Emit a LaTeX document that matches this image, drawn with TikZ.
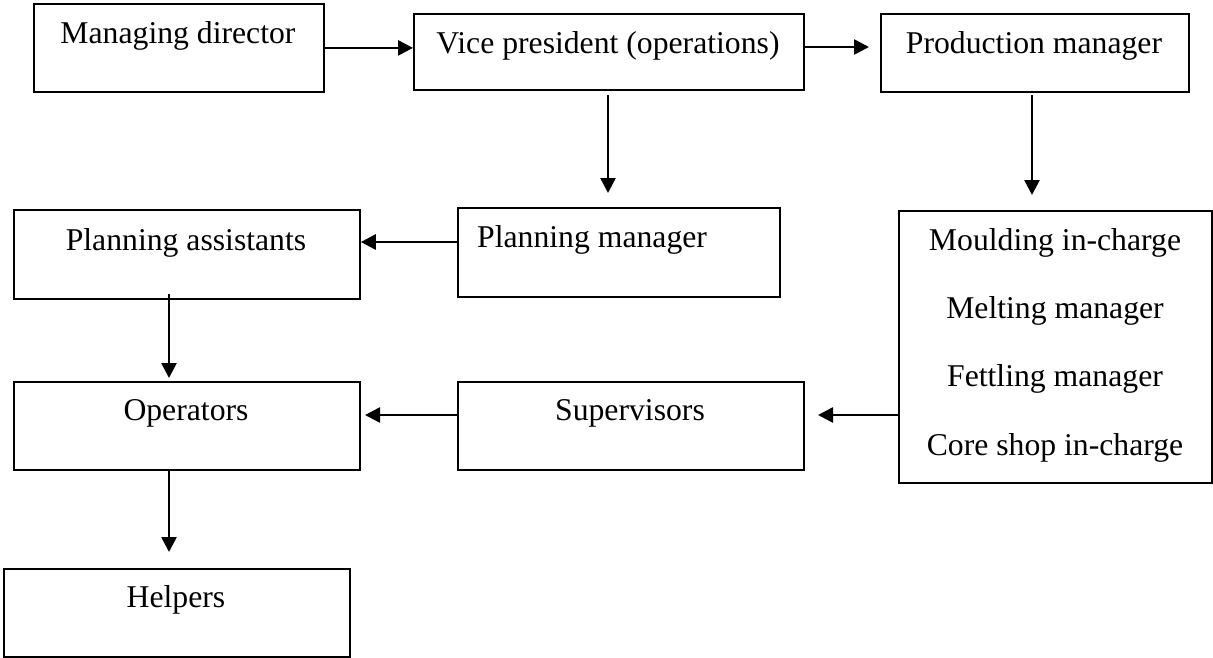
\documentclass[tikz,border=0pt]{standalone}
\usepackage{fontspec}
\setmainfont{Liberation Serif}
\usetikzlibrary{arrows.meta,calc}
\begin{document}
\begin{tikzpicture}[x=1pt,y=-1pt,
  box/.style={draw,line width=1.8pt,inner sep=0pt,anchor=north west},
  lbl/.style={anchor=base,inner sep=0pt,font=\fontsize{31.7}{38}\selectfont},
  arr/.style={line width=2.6pt,-{Triangle[length=15pt,width=15pt]}}]
\useasboundingbox (0,0) rectangle (1213,657);
% boxes
\node[box,minimum width=290pt,minimum height=88pt] (md) at (33,3) {};
\node[box,minimum width=390pt,minimum height=76pt] (vp) at (413,13) {};
\node[box,minimum width=308pt,minimum height=78pt] (pm) at (880,13) {};
\node[box,minimum width=346pt,minimum height=89pt] (pa) at (13,209) {};
\node[box,minimum width=322pt,minimum height=89pt] (plm) at (457,207) {};
\node[box,minimum width=313pt,minimum height=272pt] (mo) at (898,210) {};
\node[box,minimum width=346pt,minimum height=88pt] (op) at (13,381) {};
\node[box,minimum width=346pt,minimum height=88pt] (su) at (457,381) {};
\node[box,minimum width=346pt,minimum height=88pt] (he) at (3,568) {};
% texts
\node[lbl] (tmd) at (178,43) {Managing director};
\node[lbl] (tvp) at (608,53) {Vice president (operations)};
\node[lbl] (tpm) at (1034,53) {Production manager};
\node[lbl] (tpa) at (186,250) {Planning assistants};
\node[lbl,anchor=base west] (tplm) at (477,247) {Planning manager};
\node[lbl] (tm1) at (1055,250) {Moulding in-charge};
\node[lbl] (tm2) at (1055,318) {Melting manager};
\node[lbl] (tm3) at (1055,386) {Fettling manager};
\node[lbl] (tm4) at (1055,455) {Core shop in-charge};
\node[lbl] (top) at (186,420) {Operators};
\node[lbl] (tsu) at (630,420) {Supervisors};
\node[lbl] (the) at (176,607) {Helpers};
% free ends
\coordinate (vpd) at (608,193);
\coordinate (pmd) at (1032,195);
\coordinate (sue) at (818,415);
\coordinate (ope) at (365,415);
\coordinate (pmw) at (869,47);
% connectors
\draw[arr] (md.east) -- (md.east -| vp.west);
\draw[arr] (vp.east |- pmw) -- (pmw);
\draw[arr] (vpd |- 0,95) -- (vpd);
\draw[arr] (pmd |- 0,95) -- (pmd);
\draw[arr] (plm.west |- 0,242) -- (pa.east |- 0,242);
\draw[arr] (mo.west |- sue) -- (sue);
\draw[arr] (su.west |- ope) -- (ope);
\draw[arr] (169,294) -- (169,378);
\draw[arr] (169,469) -- (169,552);
\end{tikzpicture}
\end{document}
